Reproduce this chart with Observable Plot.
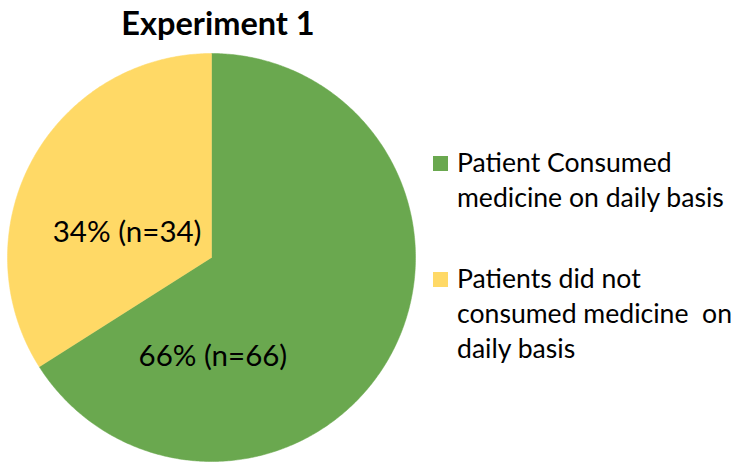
<!DOCTYPE html>
<html>
<head>
<meta charset="utf-8">
<script src="https://cdn.jsdelivr.net/npm/d3@7"></script>
<script src="https://cdn.jsdelivr.net/npm/@observablehq/plot@0.6"></script>
<style>
  html, body { margin: 0; padding: 0; background: #fff; }
  #wrap { position: relative; width: 750px; height: 474px; overflow: hidden; font-family: Lato, "Open Sans", sans-serif; color: #000; }
  #chart { position: absolute; left: 0; top: 0; }
  #title { position: absolute; left: 68px; width: 300px; top: 5px; text-align: center; font-weight: bold; font-size: 32.5px; line-height: 36px; }
  .leg { position: absolute; left: 433px; font-size: 26.6px; line-height: 35px; }
  .leg .sw { position: absolute; left: 0; top: 11px; width: 15px; height: 15px; }
  .leg .tx { position: absolute; left: 24px; top: 0; white-space: pre; }
</style>
</head>
<body>
<div id="wrap">
  <div id="chart"></div>
  <div id="title"></div>
  <div id="legend"></div>
</div>
<script>
const title = "Experiment 1";
const categories = ["Patient Consumed medicine on daily basis", "Patients did not consumed medicine  on daily basis"];
const legendLines = [["Patient Consumed", "medicine on daily basis"], ["Patients did not", "consumed medicine  on", "daily basis"]];
const values = [66, 34];
const percents = ["66%", "34%"];
const colors = ["#6AA84F", "#FFD966"];

// pie angles from values (clockwise from 12 o'clock)
const arcs = d3.pie().sort(null).value(d => d)(values);
const slicePoints = [];
arcs.forEach((a, i) => {
  const steps = Math.max(2, Math.ceil((a.endAngle - a.startAngle) / (Math.PI / 360)));
  slicePoints.push({key: i, x: 0, y: 0});
  for (let s = 0; s <= steps; s++) {
    const t = a.startAngle + (a.endAngle - a.startAngle) * s / steps;
    slicePoints.push({key: i, x: Math.sin(t), y: Math.cos(t)});
  }
  slicePoints.push({key: i, x: 0, y: 0});
});
const labels = arcs.map((a, i) => {
  const m = (a.startAngle + a.endAngle) / 2;
  return {key: i, x: 0.5 * Math.sin(m), y: 0.5 * Math.cos(m), text: `${percents[i]} (n=${values[i]})`};
});

const plot = Plot.plot({
  width: 750,
  height: 474,
  margin: 0,
  x: {domain: [-1, 1], range: [7, 415], axis: null},
  y: {domain: [-1, 1], range: [461, 53], axis: null},
  color: {domain: [0, 1], range: colors},
  style: {fontFamily: "Lato, 'Open Sans', sans-serif", background: "white"},
  marks: [
    Plot.line(slicePoints, {x: "x", y: "y", z: "key", fill: d => colors[d.key], stroke: d => colors[d.key], strokeWidth: 0.5, curve: "linear"}),
    Plot.text([labels[0]], {x: "x", y: "y", text: "text", fontSize: 29.5, fill: "#000", dx: -88, dy: 50}),
    Plot.text([labels[1]], {x: "x", y: "y", text: "text", fontSize: 29.5, fill: "#000", dx: 5, dy: 24})
  ]
});
document.getElementById("chart").appendChild(plot);
document.getElementById("title").textContent = title;

const legendTops = [145, 261];
const legend = document.getElementById("legend");
legendLines.forEach((lines, i) => {
  const g = document.createElement("div");
  g.className = "leg";
  g.style.top = legendTops[i] + "px";
  g.title = categories[i];
  const sw = document.createElement("div");
  sw.className = "sw";
  sw.style.background = colors[i];
  const tx = document.createElement("div");
  tx.className = "tx";
  tx.textContent = lines.join("\n");
  g.appendChild(sw);
  g.appendChild(tx);
  legend.appendChild(g);
});
</script>
</body>
</html>
